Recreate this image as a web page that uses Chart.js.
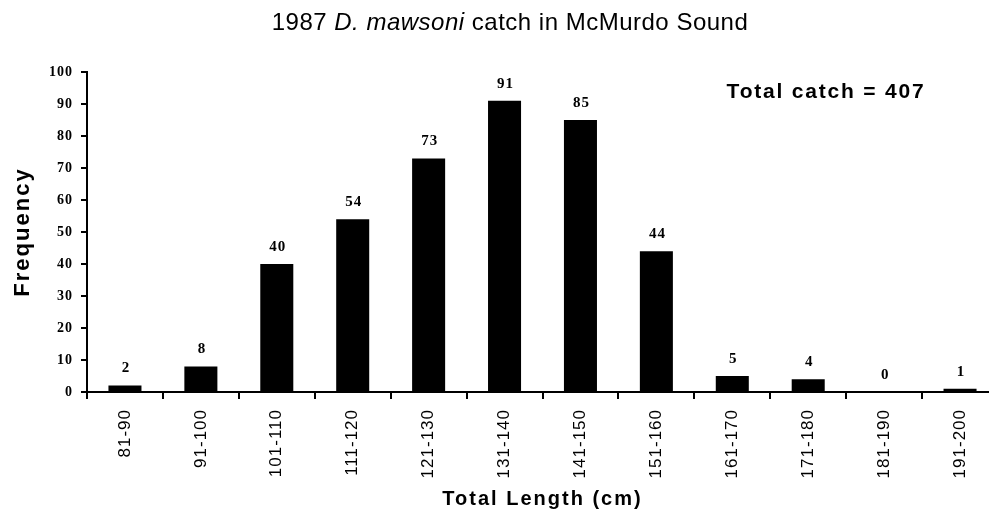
<!DOCTYPE html>
<html>
<head>
<meta charset="utf-8">
<script src="https://cdn.jsdelivr.net/npm/chart.js@4.4.1/dist/chart.umd.min.js"></script>
<style>
  html, body { margin: 0; padding: 0; background: #fff; overflow: hidden; }
  #wrap { width: 1000px; height: 519px; position: relative; }
</style>
</head>
<body>
<div id="wrap"><canvas id="myChart"></canvas></div>
<script>
const categories = ['81-90', '91-100', '101-110', '111-120', '121-130', '131-140',
                    '141-150', '151-160', '161-170', '171-180', '181-190', '191-200'];
const frequencies = [2, 8, 40, 54, 73, 91, 85, 44, 5, 4, 0, 1];
const yMin = 0;
const yMax = 100;
const yStep = 10;
const totalCatch = 407;

// title has an italic species name, so draw it by hand
const overlay = {
    id: 'overlay',
    beforeDraw(chart) {
        chart.ctx.save();
        chart.ctx.letterSpacing = '1px';
    },
    afterDraw(chart) {
        const ctx = chart.ctx;
        ctx.restore();
        ctx.save();
        ctx.fillStyle = '#000';

        // title
        ctx.letterSpacing = '0.5px';
        const parts = [
            { t: '1987 ', f: '24px "Liberation Sans"' },
            { t: 'D. mawsoni', f: 'italic 24px "Liberation Sans"' },
            { t: ' catch in McMurdo Sound', f: '24px "Liberation Sans"' }
        ];
        let w = 0;
        parts.forEach(p => { ctx.font = p.f; w += ctx.measureText(p.t).width; });
        let x = 510 - w / 2;
        ctx.textBaseline = 'middle';
        ctx.textAlign = 'left';
        parts.forEach(p => {
            ctx.font = p.f;
            ctx.fillText(p.t, x, 23);
            x += ctx.measureText(p.t).width;
        });

        // values above bars
        ctx.textAlign = 'center';
        ctx.font = 'bold 15px "Liberation Serif"';
        ctx.letterSpacing = '1px';
        const meta = chart.getDatasetMeta(0);
        meta.data.forEach((bar, i) => {
            ctx.fillText(String(frequencies[i]), bar.x + 1, bar.y - 17);
        });

        // total catch note
        ctx.font = 'bold 21px "Liberation Sans"';
        ctx.letterSpacing = '1.8px';
        ctx.fillText('Total catch = ' + totalCatch, 826, 92);

        // axis titles
        ctx.letterSpacing = '2px';
        ctx.font = 'bold 20px "Liberation Sans"';
        const area = chart.chartArea;
        ctx.fillText('Total Length (cm)', (area.left + area.right) / 2, 499);
        ctx.translate(23, (area.top + area.bottom) / 2);
        ctx.rotate(-Math.PI / 2);
        ctx.font = 'bold 22px "Liberation Sans"';
        ctx.fillText('Frequency', 0, 0);
        ctx.restore();
    }
};

const data = {
    labels: categories,
    datasets: [{
        label: 'Frequency',
        backgroundColor: '#000',
        borderWidth: 0,
        barPercentage: 0.435,
        categoryPercentage: 1.0,
        data: frequencies,
    }]
};

const config = {
    type: 'bar',
    data: data,
    options: {
        responsive: true,
        maintainAspectRatio: false,
        animation: false,
        layout: { padding: { top: 72, left: 0, right: 2, bottom: 0 } },
        plugins: {
            legend: { display: false },
            tooltip: { enabled: false }
        },
        scales: {
            x: {
                grid: {
                    drawOnChartArea: false,
                    drawTicks: true,
                    tickLength: 7,
                    color: '#000',
                    lineWidth: 2,
                    offset: true
                },
                border: { display: true, color: '#000', width: 2 },
                ticks: {
                    color: '#000',
                    font: { family: 'Liberation Sans', size: 17 },
                    minRotation: 90,
                    maxRotation: 90,
                    padding: 10,
                    autoSkip: false
                },
                afterFit(scale) { scale.height = 127; }
            },
            y: {
                min: yMin,
                max: yMax,
                grid: {
                    drawOnChartArea: false,
                    drawTicks: true,
                    tickLength: 6,
                    color: '#000',
                    lineWidth: 2
                },
                border: { display: true, color: '#000', width: 2 },
                ticks: {
                    stepSize: yStep,
                    color: '#000',
                    font: { family: 'Liberation Serif', size: 14, weight: 'bold' },
                    padding: 8
                },
                afterFit(scale) { scale.width = 87; }
            }
        }
    },
    plugins: [overlay]
};

document.addEventListener('DOMContentLoaded', (event) => {
    const myChart = new Chart(
        document.getElementById('myChart'),
        config
    );
});
</script>
</body>
</html>
